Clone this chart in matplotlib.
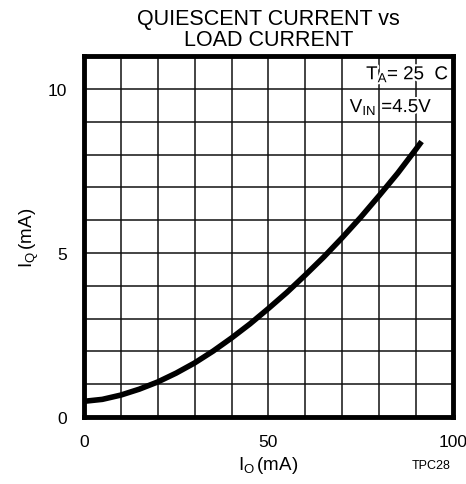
import matplotlib
matplotlib.use("Agg")
import matplotlib.pyplot as plt
import matplotlib.patheffects as pe

plt.rcParams['font.family'] = ['Liberation Sans', 'DejaVu Sans']
plt.rcParams['mathtext.fontset'] = 'custom'
plt.rcParams['mathtext.rm'] = 'Liberation Sans'
plt.rcParams['mathtext.it'] = 'Liberation Sans'

# load current (mA) vs quiescent current (mA)
io_ma = [0, 5, 10, 15, 20, 25, 30, 35, 40, 45, 50, 55, 60, 65, 70, 75, 80, 85, 90, 91.5]
iq_ma = [0.48, 0.54, 0.67, 0.85, 1.07, 1.34, 1.65, 2.01, 2.41, 2.84, 3.31, 3.80, 4.33,
         4.88, 5.47, 6.09, 6.75, 7.43, 8.17, 8.4]

x_ticks = [0, 50, 100]
y_ticks = [0, 5, 10]

fig = plt.figure(figsize=(4.66, 4.85), dpi=100)
ax = fig.add_axes([0.180, 0.138, 0.792, 0.744])

ax.set_xlim(0, 100)
ax.set_ylim(0, 11)

# grid every 10 mA in x and every 1 mA in y
for gx in range(10, 100, 10):
    ax.axvline(gx, color='#111111', lw=1.1, zorder=1)
for gy in range(1, 11):
    ax.axhline(gy, color='#111111', lw=1.1, zorder=1)

ax.plot(io_ma, iq_ma, color='black', lw=4, solid_capstyle='butt',
        solid_joinstyle='round', zorder=3)

for s in ax.spines.values():
    s.set_linewidth(3.5)
    s.set_zorder(4)

ax.set_xticks(x_ticks)
ax.set_yticks(y_ticks)
ax.tick_params(length=0, labelsize=12.5, pad=12)

ax.set_xlabel(r'$\mathregular{I_O\,}$(mA)', fontsize=13.5, labelpad=4)
ax.set_ylabel(r'$\mathregular{I_Q\,}$(mA)', fontsize=13.5, labelpad=5)
ax.set_title('QUIESCENT CURRENT vs\nLOAD CURRENT', fontsize=15.5, linespacing=1.0, pad=8)

halo = [pe.withStroke(linewidth=3, foreground='white')]
ax.text(99, 10.45, r'$\mathregular{T_A}$= 25  C', ha='right', va='center',
        fontsize=13.5, path_effects=halo, zorder=5)
ax.text(94.5, 9.45, r'$\mathregular{V_{IN}}$ =4.5V', ha='right', va='center',
        fontsize=13.5, path_effects=halo, zorder=5)

fig.text(0.925, 0.039, 'TPC28', ha='center', va='center', fontsize=9)

fig.savefig('out.png', dpi=100)
